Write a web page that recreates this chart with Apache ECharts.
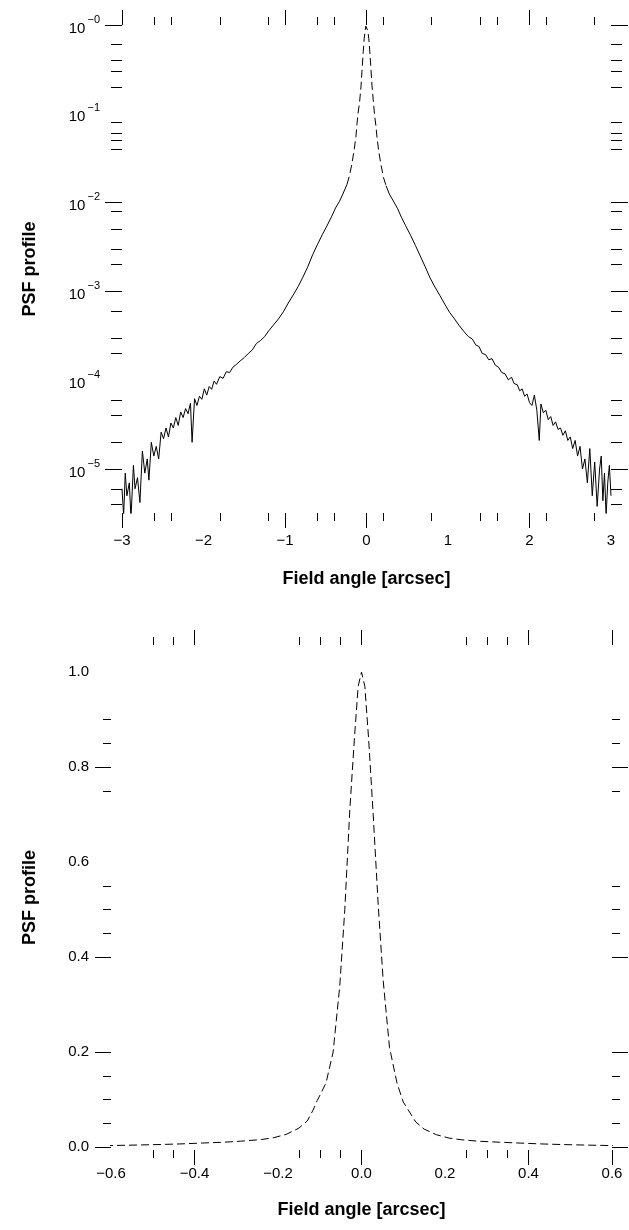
<!DOCTYPE html>
<html>
<head>
<meta charset="utf-8">
<script src="https://cdn.jsdelivr.net/npm/echarts@6.0.0/dist/echarts.min.js"></script>
<style>
html, body { margin: 0; padding: 0; background: #fff; }
#chart { width: 629px; height: 1230px; }
</style>
</head>
<body>
<div id="chart"></div>
<script>
// PSF profile, field angle in arcsec
var fieldAngle = [
  -3.000, -2.980, -2.960, -2.940, -2.910, -2.890, -2.860, -2.840, -2.810, -2.780,
  -2.750, -2.720, -2.690, -2.670, -2.640, -2.610, -2.580, -2.550, -2.520, -2.490,
  -2.460, -2.430, -2.400, -2.370, -2.340, -2.310, -2.280, -2.250, -2.220, -2.190,
  -2.160, -2.140, -2.110, -2.080, -2.050, -2.020, -1.990, -1.960, -1.930, -1.900,
  -1.870, -1.840, -1.800, -1.760, -1.720, -1.680, -1.640, -1.600, -1.550, -1.500,
  -1.450, -1.400, -1.350, -1.300, -1.250, -1.200, -1.140, -1.080, -1.020, -0.960,
  -0.900, -0.840, -0.780, -0.720, -0.660, -0.600, -0.540, -0.480, -0.430, -0.380,
  -0.330, -0.290, -0.240, -0.210, -0.180, -0.150, -0.130, -0.116, -0.106, -0.085,
  -0.068, -0.052, -0.040, -0.028, -0.017, -0.008, 0.000,
  0.008, 0.017, 0.028, 0.040, 0.052, 0.067, 0.085, 0.100, 0.115, 0.130,
  0.150, 0.180, 0.210, 0.240, 0.280, 0.330, 0.380, 0.430, 0.480, 0.540,
  0.600, 0.660, 0.720, 0.780, 0.840, 0.900, 0.960, 1.020, 1.080, 1.140,
  1.200, 1.250, 1.300, 1.340, 1.380, 1.420, 1.460, 1.500, 1.540, 1.580,
  1.620, 1.660, 1.700, 1.740, 1.780, 1.810, 1.850, 1.880, 1.910, 1.940,
  1.970, 2.000, 2.030, 2.060, 2.090, 2.120, 2.140, 2.170, 2.200, 2.230,
  2.260, 2.290, 2.320, 2.350, 2.380, 2.410, 2.440, 2.470, 2.500, 2.530,
  2.560, 2.590, 2.620, 2.650, 2.680, 2.710, 2.740, 2.770, 2.800, 2.830,
  2.860, 2.880, 2.900, 2.920, 2.940, 2.960, 2.980, 3.000
];
var psfValue = [
  6.0e-6, 3.0e-6, 9.0e-6, 5.0e-6, 7.0e-6, 2.8e-6, 1.1e-5, 6.0e-6, 8.0e-6, 4.2e-6,
  1.6e-5, 9.0e-6, 1.3e-5, 7.5e-6, 2.0e-5, 1.4e-5, 1.8e-5, 1.3e-5, 2.6e-5, 2.2e-5,
  2.9e-5, 2.3e-5, 3.3e-5, 2.9e-5, 3.8e-5, 3.1e-5, 4.4e-5, 3.8e-5, 4.8e-5, 4.2e-5,
  5.5e-5, 2.0e-5, 6.2e-5, 5.2e-5, 6.6e-5, 6.1e-5, 8.0e-5, 6.8e-5, 8.5e-5, 7.9e-5,
  9.8e-5, 9.0e-5, 1.10e-4, 1.05e-4, 1.25e-4, 1.22e-4, 1.40e-4, 1.50e-4, 1.65e-4, 1.80e-4,
  2.00e-4, 2.20e-4, 2.60e-4, 2.80e-4, 3.10e-4, 3.60e-4, 4.20e-4, 4.90e-4, 5.90e-4, 7.40e-4,
  9.10e-4, 1.13e-3, 1.45e-3, 1.90e-3, 2.60e-3, 3.40e-3, 4.40e-3, 5.60e-3, 6.90e-3, 8.70e-3,
  1.04e-2, 1.25e-2, 1.60e-2, 2.00e-2, 2.70e-2, 4.00e-2, 5.50e-2, 7.80e-2, 9.80e-2, 0.135,
  0.20, 0.34, 0.50, 0.71, 0.86, 0.97, 1.00,
  0.97, 0.86, 0.70, 0.51, 0.35, 0.21, 0.135, 0.095, 0.074, 0.053,
  0.038, 0.026, 0.019, 0.0155, 0.0125, 0.0104, 0.0086, 0.0068, 0.0055, 0.0043,
  0.0033, 0.0025, 0.0019, 1.42e-3, 1.12e-3, 9.0e-4, 7.2e-4, 5.8e-4, 4.9e-4, 4.1e-4,
  3.5e-4, 3.1e-4, 2.9e-4, 2.5e-4, 2.4e-4, 2.0e-4, 1.95e-4, 1.70e-4, 1.75e-4, 1.48e-4,
  1.40e-4, 1.22e-4, 1.18e-4, 1.01e-4, 1.08e-4, 9.2e-5, 8.9e-5, 7.6e-5, 8.0e-5, 6.6e-5,
  7.0e-5, 5.6e-5, 5.2e-5, 6.8e-5, 4.6e-5, 2.1e-5, 5.4e-5, 4.3e-5, 4.6e-5, 3.6e-5,
  3.9e-5, 3.1e-5, 3.4e-5, 2.8e-5, 2.9e-5, 2.4e-5, 2.7e-5, 2.1e-5, 2.3e-5, 1.7e-5,
  2.1e-5, 1.4e-5, 1.8e-5, 1.0e-5, 1.3e-5, 7.0e-6, 1.7e-5, 5.0e-6, 1.2e-5, 3.8e-6,
  1.0e-5, 1.4e-5, 4.4e-6, 9.0e-6, 3.0e-6, 7.0e-6, 1.1e-5, 5.0e-6
];

// top panel (log) ticks and labels
var logLabels = [1, 0.1, 0.01, 0.001, 0.0001, 0.00001];
var logMajorTicks = [1, 0.01, 0.001, 0.00001];
var logMinorTicks = [0.6, 0.4, 0.3, 0.2, 0.08, 0.06, 0.05, 0.04, 0.008, 0.005, 0.003, 0.002,
  0.0006, 0.0003, 0.0002, 0.00006, 0.00004, 0.00002, 0.000006, 0.000004];
var wideLabels = [-3, -2, -1, 0, 1, 2, 3];
var wideMajorTicks = [-3, -1, 0, 2];
var wideMinorTicks = [-2.6, -2.4, -1.8, -1.2, -0.6, -0.4, 0.2, 0.8, 1.4, 1.6, 2.2, 2.8];

// bottom panel (linear) ticks and labels
var zoomLabels = [-0.6, -0.4, -0.2, 0, 0.2, 0.4, 0.6];
var zoomMajorTicks = [-0.4, 0, 0.4, 0.6];
var zoomMinorTicks = [-0.5, -0.45, -0.15, -0.1, -0.05, 0.25, 0.3, 0.35];
var linLabels = [0, 0.2, 0.4, 0.6, 0.8, 1.0];
var linMajorTicks = [0, 0.2, 0.4, 0.8];
var linMinorTicks = [0.9, 0.85, 0.75, 0.55, 0.5, 0.45, 0.15, 0.1, 0.05];

var CORE = 0.24; // steep core drawn dashed in the log panel

var FONT = '"Liberation Sans", Arial, sans-serif';
var MINUS = '\u2212';

function signed(v, digits) {
  var s = Math.abs(v).toFixed(digits);
  return v < 0 ? MINUS + s : s;
}

// one axis that only draws ticks (optionally labels/name)
function tickAxis(grid, pos, type, min, max, ticks, len, extra) {
  var ax = {
    gridIndex: grid, position: pos, type: type, min: min, max: max,
    axisLine: { show: false, onZero: false },
    splitLine: { show: false },
    axisTick: { show: true, length: len, customValues: ticks, lineStyle: { color: '#000', width: 1 } },
    axisLabel: { show: false }
  };
  if (type === 'log') ax.logBase = 10;
  if (extra) Object.assign(ax, extra);
  return ax;
}

var labelStyle = { show: true, color: '#000', fontSize: 15, fontFamily: FONT };
var nameStyle = { color: '#000', fontSize: 18, fontWeight: 'bold', fontFamily: FONT };

var LOGMIN = 3.2e-6, LOGMAX = 1;
var YLMIN = -0.006, YLMAX = 1.057;

var xAxes = [
  tickAxis(0, 'bottom', 'value', -3, 3, wideMajorTicks, 15, {
    axisLabel: Object.assign({}, labelStyle, { customValues: wideLabels, margin: 20,
      formatter: function (v) { return signed(v, 0); } }),
    name: 'Field angle [arcsec]', nameLocation: 'middle', nameGap: 57, nameTextStyle: nameStyle
  }),
  tickAxis(0, 'bottom', 'value', -3, 3, wideMinorTicks, 8),
  tickAxis(0, 'top', 'value', -3, 3, wideMajorTicks, 15),
  tickAxis(0, 'top', 'value', -3, 3, wideMinorTicks, 8),
  tickAxis(1, 'bottom', 'value', -0.6, 0.6, zoomMajorTicks, 15, {
    axisLabel: Object.assign({}, labelStyle, { customValues: zoomLabels, margin: 16,
      formatter: function (v) { return signed(v, 1); } }),
    name: 'Field angle [arcsec]', nameLocation: 'middle', nameGap: 51, nameTextStyle: nameStyle
  }),
  tickAxis(1, 'bottom', 'value', -0.6, 0.6, zoomMinorTicks, 8),
  tickAxis(1, 'top', 'value', -0.6, 0.6, zoomMajorTicks, 15),
  tickAxis(1, 'top', 'value', -0.6, 0.6, zoomMinorTicks, 8)
];

var yAxes = [
  tickAxis(0, 'left', 'log', LOGMIN, LOGMAX, logMajorTicks, 17, {
    axisLabel: Object.assign({}, labelStyle, { customValues: logLabels, margin: 22,
      formatter: function (v) {
        var n = Math.round(-Math.log10(v));
        return '{b|10}{s|' + MINUS + n + '}';
      },
      rich: {
        b: { fontSize: 15, fontFamily: FONT, color: '#000', lineHeight: 22, verticalAlign: 'bottom' },
        s: { fontSize: 11, fontFamily: FONT, color: '#000', lineHeight: 22, verticalAlign: 'top', padding: [0, 0, 0, 2] }
      } }),
    name: 'PSF profile', nameLocation: 'middle', nameGap: 83, nameTextStyle: nameStyle
  }),
  tickAxis(0, 'left', 'log', LOGMIN, LOGMAX, logMinorTicks, 11),
  tickAxis(0, 'right', 'log', LOGMIN, LOGMAX, logMajorTicks, 17),
  tickAxis(0, 'right', 'log', LOGMIN, LOGMAX, logMinorTicks, 11),
  tickAxis(1, 'left', 'value', YLMIN, YLMAX, linMajorTicks, 16, {
    axisLabel: Object.assign({}, labelStyle, { customValues: linLabels, margin: 22,
      formatter: function (v) { return v.toFixed(1); } }),
    name: 'PSF profile', nameLocation: 'middle', nameGap: 72, nameTextStyle: nameStyle
  }),
  tickAxis(1, 'left', 'value', YLMIN, YLMAX, linMinorTicks, 8),
  tickAxis(1, 'right', 'value', YLMIN, YLMAX, linMajorTicks, 16),
  tickAxis(1, 'right', 'value', YLMIN, YLMAX, linMinorTicks, 8)
];

var profile = fieldAngle.map(function (x, i) { return [x, psfValue[i]]; });
// log panel: wings solid, core dashed (gaps via '-')
var wings = fieldAngle.map(function (x, i) { return Math.abs(x) >= CORE ? [x, psfValue[i]] : [x, '-']; });
var core = fieldAngle.map(function (x, i) { return Math.abs(x) <= CORE ? [x, psfValue[i]] : [x, '-']; });

var myChart = echarts.init(document.getElementById('chart'));
var option = {
  animation: false,
  backgroundColor: '#fff',
  grid: [
    { left: 122, top: 25, width: 489, height: 488, outerBoundsMode: 'none' },
    { left: 111, top: 645, width: 501, height: 505, outerBoundsMode: 'none' }
  ],
  xAxis: xAxes,
  yAxis: yAxes,
  series: [
    {
      type: 'line', xAxisIndex: 0, yAxisIndex: 0, data: wings,
      showSymbol: false, clip: true, connectNulls: false,
      lineStyle: { color: '#000', width: 1 }
    },
    {
      type: 'line', xAxisIndex: 0, yAxisIndex: 0, data: core,
      showSymbol: false, clip: true, connectNulls: false,
      lineStyle: { color: '#000', width: 1, type: [8, 4] }
    },
    {
      type: 'line', xAxisIndex: 4, yAxisIndex: 4, data: profile,
      showSymbol: false, clip: true,
      lineStyle: { color: '#000', width: 1, type: [8, 4] }
    }
  ]
};
myChart.setOption(option);
</script>
</body>
</html>
